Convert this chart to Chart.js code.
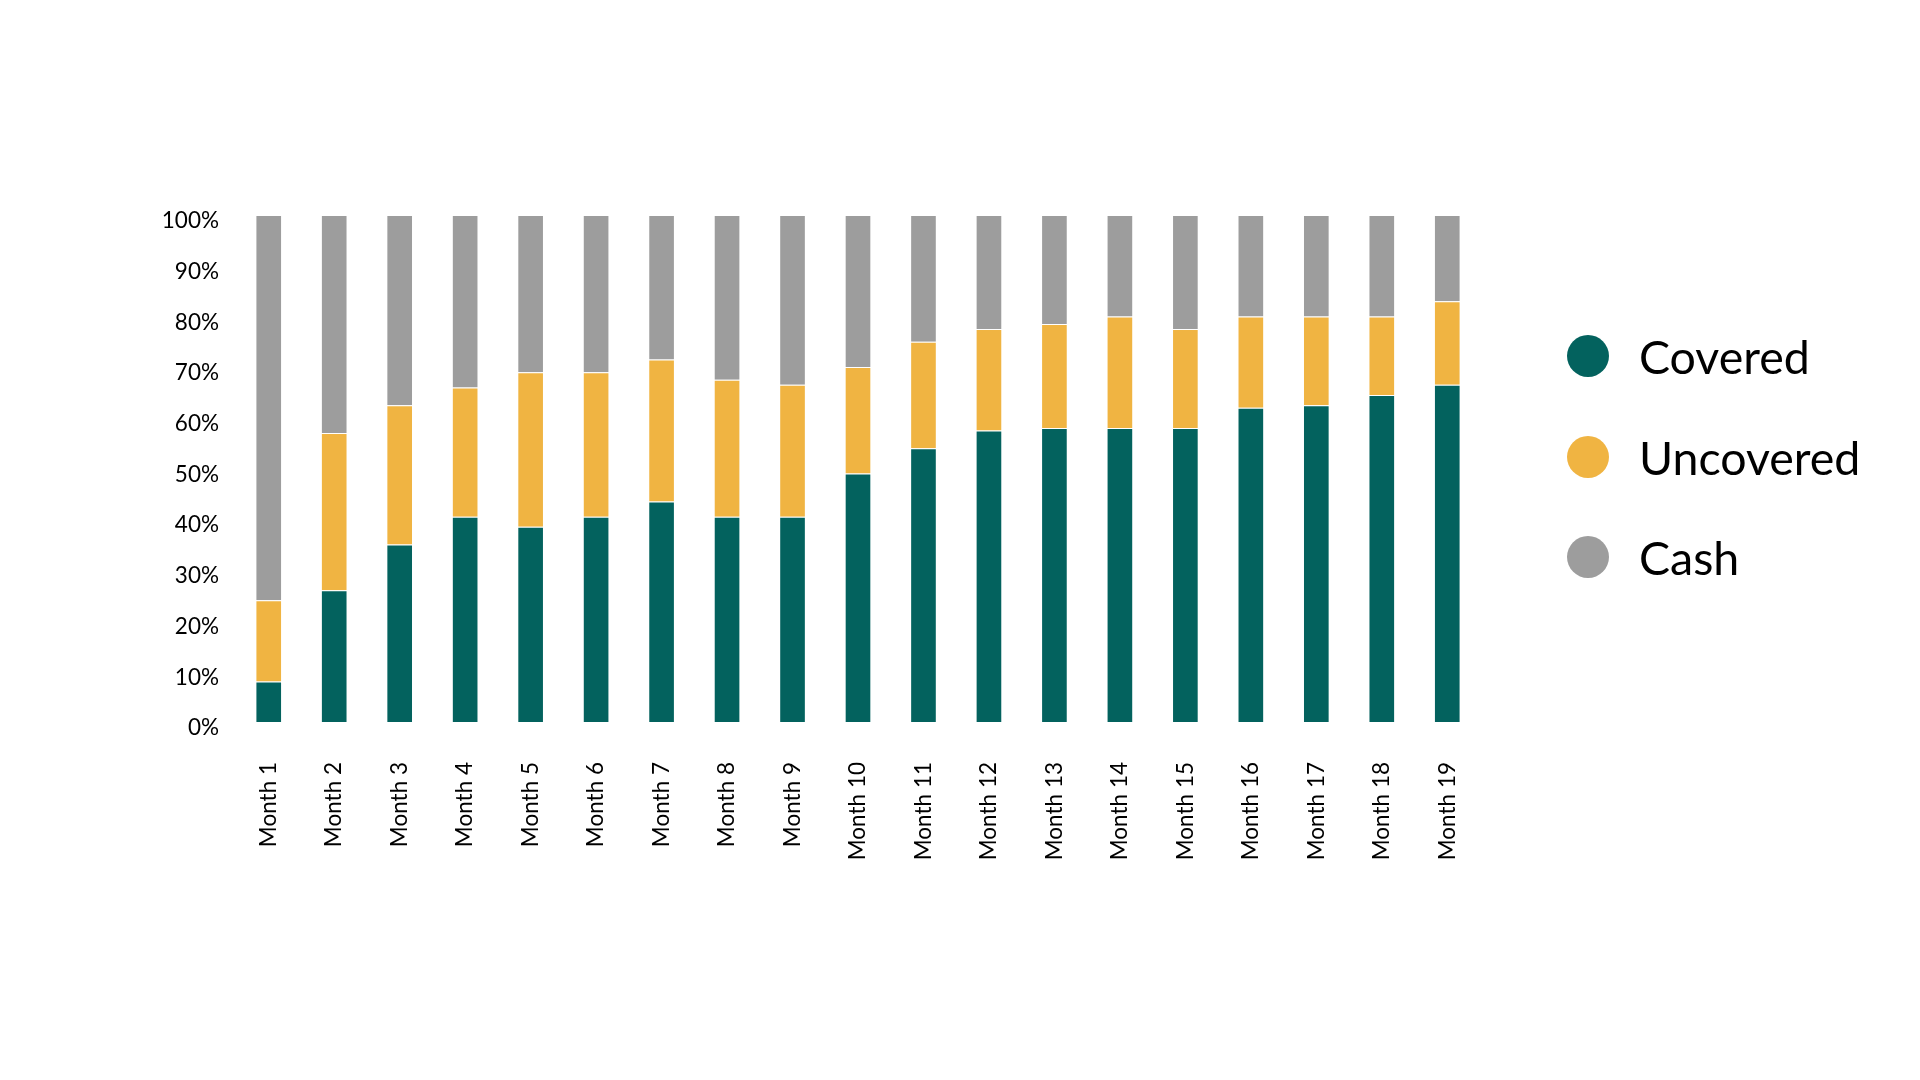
<!DOCTYPE html>
<html>
<head>
<meta charset="utf-8">
<script src="https://cdn.jsdelivr.net/npm/chart.js@4/dist/chart.umd.min.js"></script>
<style>
  html, body { margin: 0; padding: 0; background: #fff; }
  #wrap { position: relative; width: 1920px; height: 1080px; }
  #legend { position: absolute; left: 1567px; top: 331px; font-family: Lato, sans-serif; font-size: 46.5px; color: #000; }
  .item { display: flex; align-items: center; height: 50px; margin-bottom: 50.5px; }
  .dot { width: 42px; height: 42px; border-radius: 50%; margin-right: 30px; }
</style>
</head>
<body>
<div id="wrap">
  <canvas id="c" width="1920" height="1080"></canvas>
  <div id="legend"></div>
</div>
<script>
var months = ["Month 1", "Month 2", "Month 3", "Month 4", "Month 5", "Month 6", "Month 7", "Month 8", "Month 9", "Month 10",
  "Month 11", "Month 12", "Month 13", "Month 14", "Month 15", "Month 16", "Month 17", "Month 18", "Month 19"];
var covered = [8, 26, 35, 40.5, 38.5, 40.5, 43.5, 40.5, 40.5, 49, 54, 57.5, 58, 58, 58, 62, 62.5, 64.5, 66.5];
var uncovered = [16, 31, 27.5, 25.5, 30.5, 28.5, 28, 27, 26, 21, 21, 20, 20.5, 22, 19.5, 18, 17.5, 15.5, 16.5];
var cash = [76, 43, 37.5, 34, 31, 31, 28.5, 32.5, 33.5, 30, 25, 22.5, 21.5, 20, 22.5, 20, 20, 20, 17];
var yTicks = [0, 10, 20, 30, 40, 50, 60, 70, 80, 90, 100];

(function () {
  var green = "#03625E", gold = "#F0B442", grey = "#9D9D9D";
  var edge = "rgba(255,255,255,0.2)";
  var font = "Lato, sans-serif";

  var chart = new Chart(document.getElementById("c"), {
    type: "bar",
    data: {
      labels: months,
      datasets: [
        { label: "Covered", data: covered, backgroundColor: green, borderColor: edge, borderWidth: 1 },
        { label: "Uncovered", data: uncovered, backgroundColor: gold, borderColor: edge, borderWidth: 1 },
        { label: "Cash", data: cash, backgroundColor: grey, borderColor: edge, borderWidth: 1 },
      ],
    },
    options: {
      responsive: false,
      animation: false,
      barPercentage: 0.407,
      categoryPercentage: 1,
      layout: { padding: { left: 0, right: 440, top: 215, bottom: 0 } },
      plugins: { legend: { display: false }, tooltip: { enabled: false } },
      scales: {
        x: {
          stacked: true,
          grid: { display: false },
          border: { display: false },
          ticks: { color: "#000", font: { family: font, size: 22.5 }, minRotation: 90, maxRotation: 90, autoSkip: false, padding: 32 },
          afterFit: function (s) { s.height = 358; },
        },
        y: {
          stacked: true,
          min: 0,
          max: 100,
          grid: { display: false },
          border: { display: false },
          afterBuildTicks: function (s) { s.ticks = yTicks.map(function (v) { return { value: v }; }); },
          ticks: { color: "#000", font: { family: font, size: 22.5 }, padding: 9, labelOffset: 6, callback: function (v) { return v + "%"; } },
          afterFit: function (s) { s.width = 236; },
        },
      },
    },
  });

  var lg = document.getElementById("legend");
  chart.data.datasets.forEach(function (ds) {
    var it = document.createElement("div");
    it.className = "item";
    it.innerHTML = '<span class="dot" style="background:' + ds.backgroundColor + '"></span><span>' + ds.label + "</span>";
    lg.appendChild(it);
  });
})();
</script>
</body>
</html>
